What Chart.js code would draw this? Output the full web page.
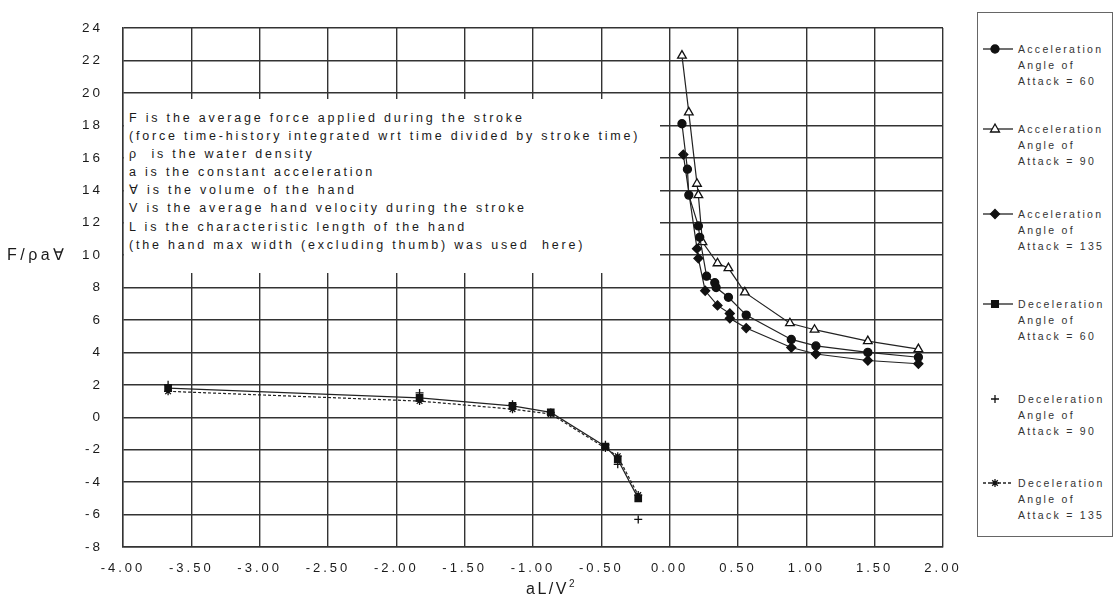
<!DOCTYPE html>
<html>
<head>
<meta charset="utf-8">
<script src="https://cdn.jsdelivr.net/npm/chart.js@4.4.1/dist/chart.umd.min.js"></script>
<style>
  html, body { margin:0; padding:0; background:#fff; }
  #wrap { position:relative; width:1116px; height:605px; overflow:hidden; }
  #c { position:absolute; left:0; top:0; }
  #note { position:absolute; left:124px; top:99px; width:536px; height:174px; background:#fff;
          font-family:"Liberation Sans", Arial, sans-serif; font-size:12.5px; letter-spacing:2.8px;
          line-height:18.1px; color:#1a1a1a; padding:10px 0 0 5px; box-sizing:border-box; white-space:pre; }
  #ytitle { position:absolute; left:7px; top:245px; font-family:"Liberation Sans", Arial, sans-serif;
            font-size:16px; letter-spacing:3.5px; color:#1a1a1a; }
  #xtitle { position:absolute; left:526px; top:580px; font-family:"Liberation Sans", Arial, sans-serif;
            font-size:16px; letter-spacing:2.5px; color:#1a1a1a; }
  #xtitle sup { font-size:10px; vertical-align:7px; line-height:0; }
  #legend { position:absolute; left:977px; top:12px; width:136px; height:525px; border:1px solid #666;
            box-sizing:border-box; background:#fff; }
  .item { position:absolute; left:0; width:136px; }
  .item canvas { position:absolute; left:3px; top:-8px; }
  .item .txt { position:absolute; left:40px; top:-8px; font-family:"Liberation Sans", Arial, sans-serif;
               font-size:10.5px; letter-spacing:2.3px; line-height:16px; color:#333; white-space:pre; }
</style>
</head>
<body>
<div id="wrap">
  <canvas id="c" width="1116" height="605"></canvas>
  <div id="note"></div>
  <div id="ytitle">F/ρa∀</div>
  <div id="xtitle">aL/V<sup>2</sup></div>
  <div id="legend"></div>
</div>
<script>
// ---- data ----
const accX60  = [0.09, 0.13, 0.14, 0.21, 0.22, 0.27, 0.33, 0.34, 0.43, 0.56, 0.89, 1.07, 1.45, 1.82];
const accY60  = [18.1, 15.3, 13.7, 11.8, 11.1, 8.7, 8.3, 8.0, 7.4, 6.3, 4.8, 4.4, 4.0, 3.7];
const accX90  = [0.09, 0.14, 0.20, 0.21, 0.24, 0.35, 0.43, 0.55, 0.88, 1.06, 1.45, 1.82];
const accY90  = [22.3, 18.8, 14.4, 13.7, 10.8, 9.5, 9.2, 7.7, 5.8, 5.4, 4.7, 4.2];
const accX135 = [0.10, 0.20, 0.21, 0.26, 0.35, 0.44, 0.44, 0.56, 0.89, 1.07, 1.45, 1.82];
const accY135 = [16.2, 10.4, 9.8, 7.8, 6.9, 6.4, 6.1, 5.5, 4.3, 3.9, 3.5, 3.3];
const decX    = [-3.67, -1.83, -1.15, -0.87, -0.47, -0.38, -0.23];
const decY60  = [1.8, 1.2, 0.7, 0.3, -1.8, -2.6, -5.0];
const decY90  = [2.0, 1.5, 0.8, 0.3, -1.7, -2.9, -6.3];
const decY135 = [1.6, 1.0, 0.5, 0.2, -1.9, -2.4, -4.8];

const seriesNames = [
  ['Acceleration', 'Angle of', 'Attack = 60'],
  ['Acceleration', 'Angle of', 'Attack = 90'],
  ['Acceleration', 'Angle of', 'Attack = 135'],
  ['Deceleration', 'Angle of', 'Attack = 60'],
  ['Deceleration', 'Angle of', 'Attack = 90'],
  ['Deceleration', 'Angle of', 'Attack = 135']
];
const yTitle = 'F/ρa∀';
const noteLines = [
  'F is the average force applied during the stroke',
  '(force time-history integrated wrt time divided by stroke time)',
  'ρ  is the water density',
  'a is the constant acceleration',
  '∀ is the volume of the hand',
  'V is the average hand velocity during the stroke',
  'L is the characteristic length of the hand',
  '(the hand max width (excluding thumb) was used  here)'
];

// ---- build ----
const pts = (xs, ys) => xs.map((x, i) => ({x: x, y: ys[i]}));

const styles = [
  {pointStyle:'circle',  radius:4,   fill:'#111', line:true,  dash:[]},
  {pointStyle:'triangle',radius:5,   fill:'#fff', line:true,  dash:[]},
  {pointStyle:'rectRot', radius:4.5, fill:'#111', line:true,  dash:[]},
  {pointStyle:'rect',    radius:4.5, fill:'#111', line:true,  dash:[]},
  {pointStyle:'cross',   radius:4,   fill:'#111', line:false, dash:[]},
  {pointStyle:'star',    radius:4,   fill:'#111', line:true,  dash:[3,2]}
];
const dataSets = [pts(accX60, accY60), pts(accX90, accY90), pts(accX135, accY135),
                  pts(decX, decY60), pts(decX, decY90), pts(decX, decY135)];

const datasets = dataSets.map((d, i) => ({
  label: seriesNames[i].join(' '),
  data: d,
  showLine: styles[i].line,
  borderColor: '#222',
  borderWidth: 1.2,
  borderDash: styles[i].dash,
  pointStyle: styles[i].pointStyle,
  pointRadius: styles[i].radius,
  pointBackgroundColor: styles[i].fill,
  pointBorderColor: '#111',
  pointBorderWidth: 1.3,
  fill: false,
  tension: 0
}));

const spacingPlugin = {
  id: 'spacing',
  beforeDraw(chart) { chart.ctx.letterSpacing = '3px'; },
  afterDraw(chart) { chart.ctx.letterSpacing = '0px'; }
};

new Chart(document.getElementById('c'), {
  type: 'scatter',
  data: { datasets: datasets },
  options: {
    responsive: false,
    animation: false,
    layout: { padding: { top: 14, right: 173, left: 0, bottom: 0 } },
    plugins: { legend: { display: false }, tooltip: { enabled: false } },
    scales: {
      x: {
        type: 'linear', min: -4, max: 2,
        afterFit(s) { s.height = 58; },
        ticks: { stepSize: 0.5, padding: 14, color: '#1a1a1a', autoSkip: false,
                 font: { family: 'Liberation Sans', size: 13 },
                 callback: v => Number(v).toFixed(2) },
        grid: { color: '#333', lineWidth: 1.4, drawTicks: false },
        border: { color: '#333', width: 1.4 }
      },
      y: {
        type: 'linear', min: -8, max: 24,
        afterFit(s) { s.width = 123; },
        ticks: { stepSize: 2, padding: 20, color: '#1a1a1a',
                 font: { family: 'Liberation Sans', size: 13.5 } },
        grid: { color: '#333', lineWidth: 1.4, drawTicks: false },
        border: { color: '#333', width: 1.4 }
      }
    }
  },
  plugins: [spacingPlugin]
});

// annotation text
document.getElementById('note').textContent = noteLines.join('\n');
document.getElementById('ytitle').textContent = yTitle;

// legend
function drawMarker(ctx, style, x, y, r, fill) {
  ctx.fillStyle = fill; ctx.strokeStyle = '#111'; ctx.lineWidth = 1.3;
  ctx.beginPath();
  if (style === 'circle') { ctx.arc(x, y, r, 0, Math.PI * 2); ctx.fill(); ctx.stroke(); }
  else if (style === 'triangle') {
    ctx.moveTo(x, y - r); ctx.lineTo(x + r * 0.9, y + r * 0.6); ctx.lineTo(x - r * 0.9, y + r * 0.6);
    ctx.closePath(); ctx.fill(); ctx.stroke();
  } else if (style === 'rectRot') {
    ctx.moveTo(x, y - r); ctx.lineTo(x + r, y); ctx.lineTo(x, y + r); ctx.lineTo(x - r, y);
    ctx.closePath(); ctx.fill(); ctx.stroke();
  } else if (style === 'rect') { ctx.rect(x - r * 0.75, y - r * 0.75, r * 1.5, r * 1.5); ctx.fill(); ctx.stroke(); }
  else if (style === 'cross') { ctx.moveTo(x - r, y); ctx.lineTo(x + r, y); ctx.moveTo(x, y - r); ctx.lineTo(x, y + r); ctx.stroke(); }
  else if (style === 'star') {
    ctx.moveTo(x - r, y); ctx.lineTo(x + r, y); ctx.moveTo(x, y - r); ctx.lineTo(x, y + r);
    ctx.moveTo(x - r * .7, y - r * .7); ctx.lineTo(x + r * .7, y + r * .7);
    ctx.moveTo(x - r * .7, y + r * .7); ctx.lineTo(x + r * .7, y - r * .7); ctx.stroke();
  }
}
const legendY = [36, 116, 201, 291, 386, 470];
const legend = document.getElementById('legend');
seriesNames.forEach((lines, i) => {
  const item = document.createElement('div');
  item.className = 'item';
  item.style.top = legendY[i] + 'px';
  const cv = document.createElement('canvas');
  cv.width = 36; cv.height = 16;
  const ctx = cv.getContext('2d');
  if (styles[i].line) {
    ctx.strokeStyle = '#222'; ctx.lineWidth = 1.3; ctx.setLineDash(styles[i].dash);
    ctx.beginPath(); ctx.moveTo(2, 8); ctx.lineTo(32, 8); ctx.stroke(); ctx.setLineDash([]);
  }
  drawMarker(ctx, styles[i].pointStyle, 14, 8, styles[i].radius, styles[i].fill);
  const t = document.createElement('div');
  t.className = 'txt';
  t.textContent = lines.join('\n');
  item.appendChild(cv); item.appendChild(t);
  legend.appendChild(item);
});
</script>
</body>
</html>
